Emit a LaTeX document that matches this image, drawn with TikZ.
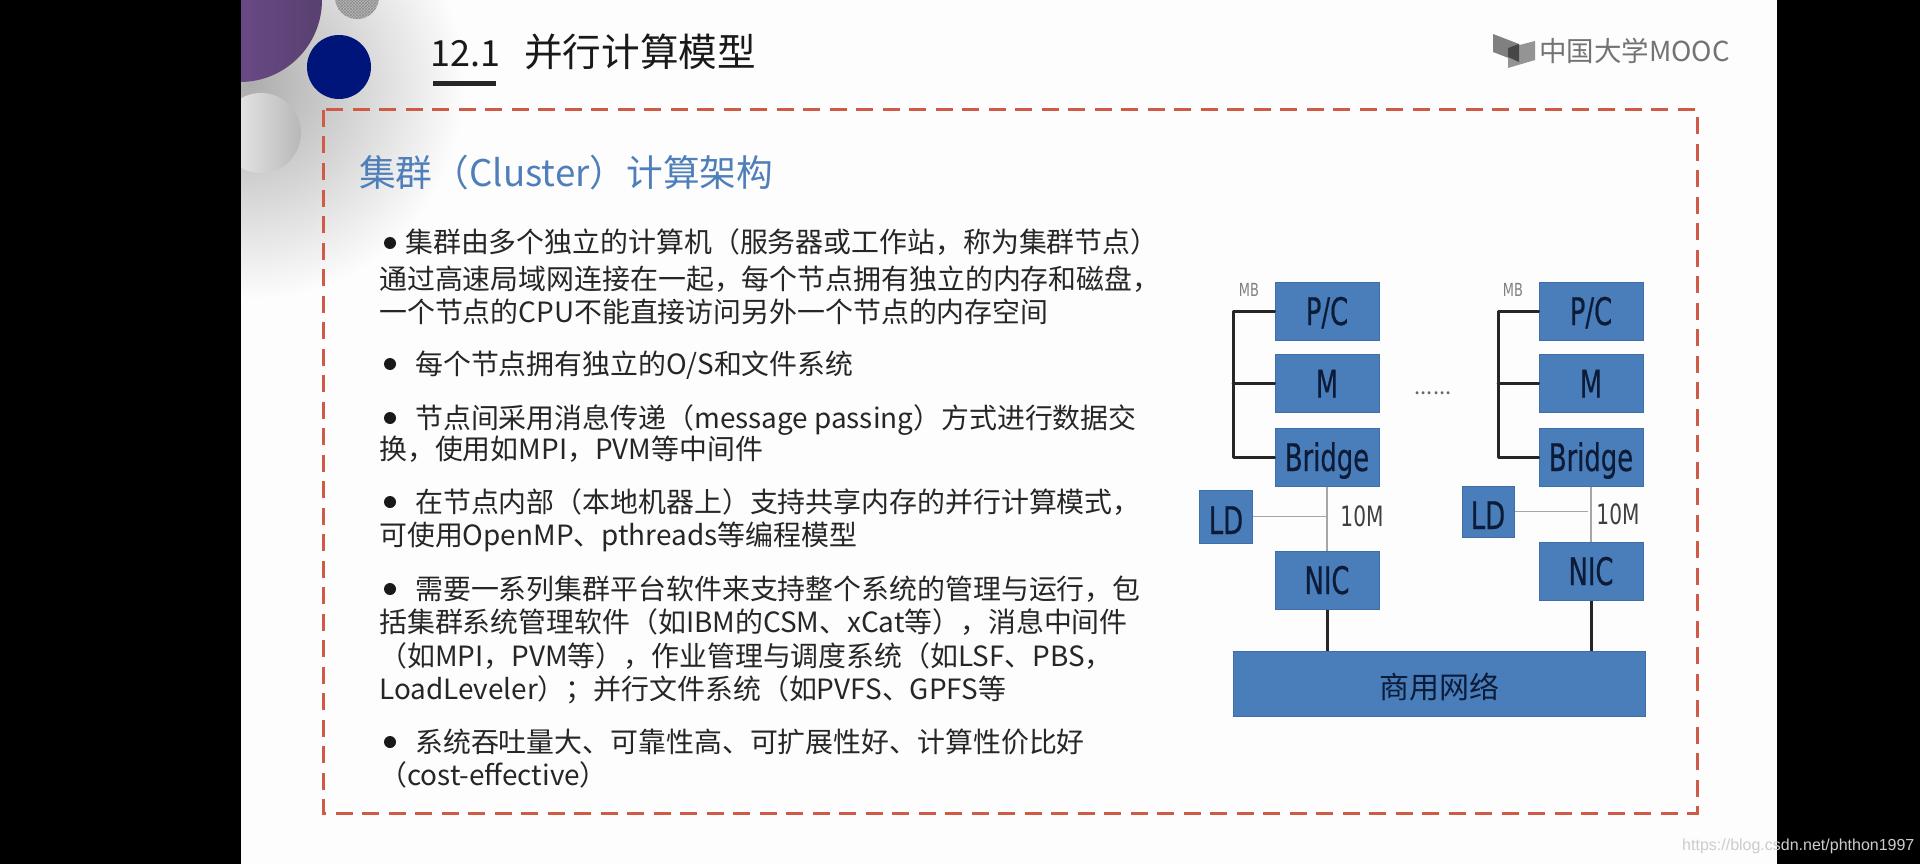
\documentclass[tikz,border=0pt]{standalone}
\usepackage{fontspec}
\usetikzlibrary{patterns}
\setmainfont{Noto Sans CJK SC}
\newfontfamily\boxfont[FakeStretch=0.68,FakeBold=0.5]{DejaVu Sans}
\newfontfamily\thinfont[FakeStretch=0.72]{DejaVu Sans}
\newfontfamily\latinfont{Liberation Sans}
\definecolor{boxblue}{HTML}{4A7EBB}
\definecolor{boxedge}{HTML}{3F6FA6}
\definecolor{boxink}{HTML}{0C1C38}
\definecolor{headblue}{HTML}{4F7FB8}
\definecolor{framered}{HTML}{CF5A48}
\definecolor{bodyink}{HTML}{262626}
\definecolor{slidebg}{HTML}{FDFDFD}
\definecolor{purpleA}{HTML}{7A539A}
\definecolor{purpleB}{HTML}{584070}
\definecolor{navyball}{HTML}{00157A}
\tikzset{
  x=1pt,y=-1pt,
  bluebox/.style={draw=boxedge,line width=1pt,fill=boxblue,text=boxink,inner sep=0pt,font=\boxfont\fontsize{38}{40}\selectfont,text height=28pt,text depth=0pt},
  stdbox/.style={bluebox,minimum width=104pt,minimum height=58pt},
  ldbox/.style={bluebox,text height=35pt},
  busline/.style={draw=black!85,line width=3pt,line cap=round,line join=round},
  thinline/.style={draw=black!35,line width=1.8pt},
  smalltext/.style={font=\thinfont\fontsize{28}{30}\selectfont,text=black!75,inner sep=0pt},
  mbtext/.style={font=\thinfont\fontsize{18}{20}\selectfont,text=black!50,inner sep=0pt},
  bodyline/.style={anchor=base west,inner sep=0pt,text=bodyink,font=\fontsize{27.9}{30}\selectfont},
  bulletdot/.style={anchor=center,circle,fill=black!90,inner sep=0pt,minimum size=12pt},
}
\begin{document}
\begin{tikzpicture}
\useasboundingbox (0,0) rectangle (1920,864);
% slide
\fill[black] (0,0) rectangle (1920,864);
\fill[slidebg] (241,0) rectangle (1777,864);
\begin{scope}
  \clip (241,0) rectangle (1777,864);
  \shade[inner color=black!32,outer color=slidebg] (250,85) circle[radius=215];
  \shade[left color=purpleA,right color=purpleB] (240,0) circle[radius=82];
  \fill[black!28] (357,-3) circle[radius=22];
  \fill[pattern=crosshatch,pattern color=black!45] (357,-3) circle[radius=22];
  \fill[navyball] (339,67) circle[radius=32];
  \shade[left color=black!6,right color=black!28] (261,133) circle[radius=40];
\end{scope}
% title
\node[anchor=base west,inner sep=0pt,text=black!90,font=\fontsize{36}{40}\selectfont] (titlenum) at (430,67) {12.1};
\node[anchor=base west,inner sep=0pt,text=black!90,font=\fontsize{38.6}{42}\selectfont] (title) at (524,67) {并行计算模型};
\fill[black!85] (433,81) rectangle (496,86);
% logo
\fill[black!50] (1493,34) -- (1519,44) -- (1519,62) -- (1493,52) -- cycle;
\fill[black!42] (1508,48) -- (1535,41) -- (1535,60) -- (1508,68) -- cycle;
\fill[black!72] (1508,48) -- (1519,44) -- (1519,62) -- (1508,57) -- cycle;
\node[anchor=base west,inner sep=0pt,text=black!55,font=\fontsize{27.5}{30}\selectfont] (logo) at (1539,62) {中国大学MOOC};
% frame
\draw[framered,line width=3pt,dash pattern=on 17pt off 9.5pt] (323,110) rectangle (1697,813);
% heading
\node[anchor=base west,inner sep=0pt,text=headblue,font=\fontsize{36.7}{40}\selectfont] (head) at (359,186) {集群（Cluster）计算架构};
% body
\node[bulletdot] (b1) at (390,243) {};
\node[bodyline] (l1) at (405,252) {集群由多个独立的计算机（服务器或工作站，称为集群节点）};
\node[bodyline] (l2) at (379,289) {通过高速局域网连接在一起，每个节点拥有独立的内存和磁盘，};
\node[bodyline] (l3) at (379,322) {一个节点的CPU不能直接访问另外一个节点的内存空间};
\node[bulletdot] (b2) at (390,364) {};
\node[bodyline] (l4) at (415,374) {每个节点拥有独立的O/S和文件系统};
\node[bulletdot] (b3) at (390,418) {};
\node[bodyline] (l5) at (415,428) {节点间采用消息传递（message passing）方式进行数据交};
\node[bodyline] (l6) at (379,459) {换，使用如MPI，PVM等中间件};
\node[bulletdot] (b4) at (390,502) {};
\node[bodyline] (l7) at (415,512) {在节点内部（本地机器上）支持共享内存的并行计算模式，};
\node[bodyline] (l8) at (379,545) {可使用OpenMP、pthreads等编程模型};
\node[bulletdot] (b5) at (390,589) {};
\node[bodyline] (l9) at (415,599) {需要一系列集群平台软件来支持整个系统的管理与运行，包};
\node[bodyline] (l10) at (379,632) {括集群系统管理软件（如IBM的CSM、xCat等），消息中间件};
\node[bodyline] (l11) at (379,666) {（如MPI，PVM等），作业管理与调度系统（如LSF、PBS，};
\node[bodyline] (l12) at (379,699) {LoadLeveler）；并行文件系统（如PVFS、GPFS等};
\node[bulletdot] (b6) at (390,742) {};
\node[bodyline] (l13) at (415,752) {系统吞吐量大、可靠性高、可扩展性好、计算性价比好};
\node[bodyline] (l14) at (379,785) {（cost-effective）};
% diagram, left node
\node[stdbox] (pc1) at (1327,311) {P/C};
\node[stdbox] (m1) at (1327,383.5) {M};
\node[stdbox] (br1) at (1327,457) {Bridge};
\node[stdbox] (nic1) at (1327,580) {NIC};
\node[ldbox,minimum width=53pt,minimum height=53pt] (ld1) at (1226,516.5) {LD};
% diagram, right node
\node[stdbox] (pc2) at (1591,311) {P/C};
\node[stdbox] (m2) at (1591,383.5) {M};
\node[stdbox] (br2) at (1591,457) {Bridge};
\node[stdbox] (nic2) at (1591,571) {NIC};
\node[ldbox,minimum width=52pt,minimum height=51pt] (ld2) at (1488,511.5) {LD};
% network
\node[bluebox,minimum width=412pt,minimum height=65pt,font=\fontsize{30}{32}\selectfont,text height=30pt] (net) at (1439,683.5) {商用网络};
% labels
\node[mbtext] (mb1) at (1249,290) {MB};
\node[mbtext] (mb2) at (1513,290) {MB};
\node[smalltext] (tm1) at (1362,516) {10M};
\node[smalltext] (tm2) at (1618,514) {10M};
\node[font=\fontsize{22}{24}\selectfont,text=black!60,inner sep=0pt] (dots) at (1433,393) {......};
% connectors
\coordinate (busa) at (1233,0);
\coordinate (busb) at (1498,0);
\coordinate (stopb) at (1588,0);
\draw[busline] (pc1.west) -- (pc1.west -| busa) -- (br1.west -| busa) -- (br1.west);
\draw[busline] (m1.west) -- (m1.west -| busa);
\draw[busline] (pc2.west) -- (pc2.west -| busb) -- (br2.west -| busb) -- (br2.west);
\draw[busline] (m2.west) -- (m2.west -| busb);
\draw[thinline] (br1.south) -- (nic1.north);
\draw[thinline] (br2.south) -- (nic2.north);
\draw[thinline] (ld1.east) -- (ld1.east -| br1.south);
\draw[thinline] (ld2.east) -- (ld2.east -| stopb);
\draw[busline,line cap=butt] (nic1.south) -- (nic1.south |- net.north);
\draw[busline,line cap=butt] (nic2.south) -- (nic2.south |- net.north);
% watermark
\node[anchor=base west,inner sep=0pt,text=black!20,font=\latinfont\fontsize{16}{18}\selectfont] (mark) at (1682,850) {https://blog.csdn.net/phthon1997};
\end{tikzpicture}
\end{document}
